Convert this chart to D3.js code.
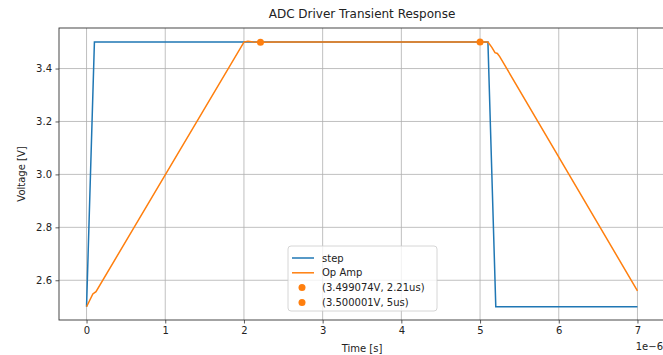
<!DOCTYPE html>
<html lang="en">
<head>
<meta charset="utf-8">
<script src="https://cdn.jsdelivr.net/npm/d3@7"></script>
<style>
  body { margin: 0; background: #fff; }
  svg { font-family: "DejaVu Sans", sans-serif; }
</style>
</head>
<body>
<svg width="663" height="355"></svg>
<script>
// time in microseconds, voltage in V
var stepT = [0, 0.1, 5.1, 5.2, 7.0];
var stepV = [2.5, 3.5, 3.5, 2.5, 2.5];

var ampT = [0, 0.08, 0.12, 2.0, 2.05, 2.12, 2.21, 2.4, 5.0, 5.1, 5.15, 5.19, 5.22, 5.25, 7.0];
var ampV = [2.5, 2.548, 2.557, 3.5, 3.503, 3.5, 3.499, 3.5, 3.5, 3.5, 3.48, 3.46, 3.457, 3.445, 2.56];

var markT = [2.21, 5.0];
var markV = [3.499074, 3.500001];
var markLabels = ["(3.499074V, 2.21us)", "(3.500001V, 5us)"];

var xTicks = [0, 1, 2, 3, 4, 5, 6, 7];
var yTicks = [2.6, 2.8, 3.0, 3.2, 3.4];

var blue = "#1f77b4", orange = "#ff7f0e";

var svg = d3.select("svg"),
    pLeft = 59, pRight = 665, pTop = 28, pBottom = 320;

function pad(ext) { var d = (ext[1] - ext[0]) * 0.05; return [ext[0] - d, ext[1] + d]; }

var allT = stepT.concat(ampT), allV = stepV.concat(ampV);
var x = d3.scaleLinear().domain(pad(d3.extent(allT))).range([pLeft, pRight]);
var y = d3.scaleLinear().domain(pad(d3.extent(allV))).range([pBottom, pTop]);

// grid
svg.append("g").selectAll("line").data(xTicks).enter().append("line")
    .attr("x1", function(d) { return x(d); }).attr("x2", function(d) { return x(d); })
    .attr("y1", pTop).attr("y2", pBottom)
    .attr("stroke", "#b0b0b0").attr("stroke-width", 0.8);
svg.append("g").selectAll("line").data(yTicks).enter().append("line")
    .attr("y1", function(d) { return y(d); }).attr("y2", function(d) { return y(d); })
    .attr("x1", pLeft).attr("x2", pRight)
    .attr("stroke", "#b0b0b0").attr("stroke-width", 0.8);

var line = d3.line().x(function(d) { return x(d[0]); }).y(function(d) { return y(d[1]); });

svg.append("path").datum(d3.zip(stepT, stepV)).attr("d", line)
    .attr("fill", "none").attr("stroke", blue).attr("stroke-width", 1.5);
svg.append("path").datum(d3.zip(ampT, ampV)).attr("d", line)
    .attr("fill", "none").attr("stroke", orange).attr("stroke-width", 1.5);

svg.append("g").selectAll("circle").data(d3.zip(markT, markV)).enter().append("circle")
    .attr("cx", function(d) { return x(d[0]); }).attr("cy", function(d) { return y(d[1]); })
    .attr("r", 3.5).attr("fill", orange);

// axes
var xAxis = d3.axisBottom(x).tickValues(xTicks).tickSize(3.5).tickPadding(3.5).tickFormat(d3.format("d"));
var yAxis = d3.axisLeft(y).tickValues(yTicks).tickSize(3.5).tickPadding(3.5).tickFormat(d3.format(".1f"));

var gx = svg.append("g").attr("transform", "translate(0," + pBottom + ")").call(xAxis);
var gy = svg.append("g").attr("transform", "translate(" + pLeft + ",0)").call(yAxis);
[gx, gy].forEach(function(g) {
  g.select(".domain").remove();
  g.selectAll("text").attr("font-size", 10).attr("font-family", "DejaVu Sans").attr("fill", "#222");
  g.selectAll(".tick line").attr("stroke", "#333").attr("stroke-width", 0.8);
});

// spines
svg.append("rect").attr("x", pLeft).attr("y", pTop)
    .attr("width", pRight - pLeft).attr("height", pBottom - pTop)
    .attr("fill", "none").attr("stroke", "#333").attr("stroke-width", 0.9);

svg.append("text").attr("x", (pLeft + pRight) / 2).attr("y", 18)
    .attr("text-anchor", "middle").attr("font-size", 12).attr("fill", "#222")
    .text("ADC Driver Transient Response");
svg.append("text").attr("x", (pLeft + pRight) / 2).attr("y", 352)
    .attr("text-anchor", "middle").attr("font-size", 10).attr("fill", "#222")
    .text("Time [s]");
svg.append("text").attr("transform", "translate(25," + ((pTop + pBottom) / 2) + ") rotate(-90)")
    .attr("text-anchor", "middle").attr("font-size", 10).attr("fill", "#222")
    .text("Voltage [V]");
svg.append("text").attr("x", 663).attr("y", 350)
    .attr("text-anchor", "end").attr("font-size", 10).attr("fill", "#222")
    .text("1e\u22126");

// legend
var lg = svg.append("g").attr("transform", "translate(288,246)");
lg.append("rect").attr("width", 149).attr("height", 65).attr("rx", 3)
    .attr("fill", "#fff").attr("fill-opacity", 0.8).attr("stroke", "#ccc").attr("stroke-width", 0.8);
var entries = [
  {label: "step", type: "line", color: blue},
  {label: "Op Amp", type: "line", color: orange},
  {label: markLabels[0], type: "dot", color: orange},
  {label: markLabels[1], type: "dot", color: orange}
];
entries.forEach(function(e, i) {
  var cy = 12 + i * 14.8;
  if (e.type === "line") {
    lg.append("line").attr("x1", 4).attr("x2", 26).attr("y1", cy).attr("y2", cy)
      .attr("stroke", e.color).attr("stroke-width", 1.5);
  } else {
    lg.append("circle").attr("cx", 14).attr("cy", cy).attr("r", 3.5).attr("fill", e.color);
  }
  lg.append("text").attr("x", 34).attr("y", cy + 3.5).attr("font-size", 10).attr("fill", "#222")
    .text(e.label);
});
</script>
</body>
</html>
